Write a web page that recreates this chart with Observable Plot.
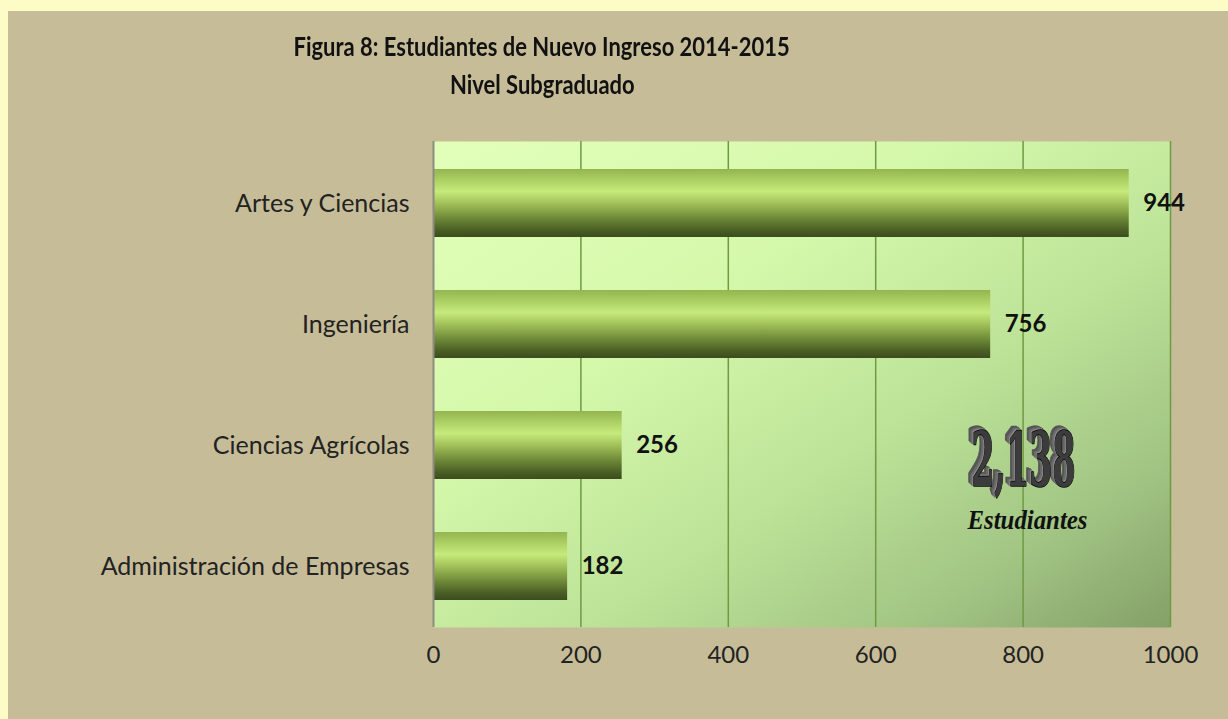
<!DOCTYPE html>
<html><head><meta charset="utf-8">
<script src="https://cdn.jsdelivr.net/npm/d3@7"></script>
<script src="https://cdn.jsdelivr.net/npm/@observablehq/plot@0.6"></script>
<style>
html,body{margin:0;padding:0;background:#fdfbc6;width:1228px;height:719px;overflow:hidden}
#panel{position:absolute;left:8px;top:11px;width:1220px;height:708px;background:#c6bd98;}
#title{width:1068px;height:100px;box-sizing:border-box;padding-top:16px;text-align:center;font-family:Lato,sans-serif;font-weight:bold;font-size:26px;line-height:38px;color:#111;}
#title span{display:inline-block;transform:scaleX(0.845);transform-origin:center;}
#chart{position:absolute;left:0;top:100px;}
</style></head><body>
<div id="panel">
  <div id="title"><span>Figura 8: Estudiantes de Nuevo Ingreso 2014-2015</span><br><span>Nivel Subgraduado</span></div>
  <div id="chart"></div>
</div>
<script>
const categories = ["Artes y Ciencias", "Ingeniería", "Ciencias Agrícolas", "Administración de Empresas"];
const students = [944, 756, 256, 182];
const xTicks = [0, 200, 400, 600, 800, 1000];
const totalCaption = "Estudiantes";

const data = categories.map((c, i) => ({category: c, value: students[i]}));
const total = d3.sum(students);
const totalText = d3.format(",")(total);

const svg = Plot.plot({
  width: 1220,
  height: 608,
  marginLeft: 425,
  marginRight: 58,
  marginTop: 30,
  marginBottom: 92,
  style: {fontFamily: "Lato, sans-serif", fontSize: "24px", color: "#222", background: "transparent", overflow: "visible"},
  x: {domain: [0, 1000]},
  y: {domain: categories, paddingInner: 0.44, paddingOuter: 0.22},
  marks: [
    Plot.frame({fill: "url(#bgGrad)", stroke: "none"}),
    Plot.gridX(xTicks.slice(1), {stroke: "#6f9a42", strokeOpacity: 1, strokeWidth: 1.5}),
    Plot.barX(data, {x: "value", y: "category", fill: "url(#barGrad)"}),
    Plot.ruleX([0], {stroke: "#8d8c80", strokeWidth: 2}),
    Plot.text(data, {x: "value", y: "category", text: d => String(d.value), textAnchor: "start", dx: 14,
      fontWeight: "bold", fontSize: 24, fill: "#111"}),
    Plot.text([totalText], {
      text: d => d, frameAnchor: "right", textAnchor: "middle", dx: -147, dy: 78,
      fontFamily: "DejaVu Serif Condensed", fontWeight: "bold", fontSize: 74,
      fill: "#3c3c3c", stroke: "#000", strokeWidth: 1.5
    }),
    Plot.text([totalCaption], {
      text: d => d, frameAnchor: "right", textAnchor: "middle", dx: -143, dy: 136,
      fontFamily: "Liberation Serif", fontStyle: "italic", fontWeight: "bold", fontSize: 28, fill: "#111"
    }),
    Plot.axisX(xTicks, {tickSize: 0, tickPadding: 18, fontSize: 24, fill: "#222", label: null, tickFormat: d => String(d)}),
    Plot.axisY({tickSize: 0, tickPadding: 24, fontSize: 25, fill: "#222", label: null})
  ]
});

const defs = d3.select(svg).insert("defs", ":first-child");
const bg = defs.append("linearGradient").attr("id", "bgGrad")
  .attr("x1", 0).attr("y1", 0).attr("x2", 1).attr("y2", 1);
[[0, "#e2ffba"], [0.35, "#d4f8aa"], [0.6, "#bde398"], [0.82, "#a2c584"], [1, "#84a168"]]
  .forEach(([o, c]) => bg.append("stop").attr("offset", o).attr("stop-color", c));
const bar = defs.append("linearGradient").attr("id", "barGrad")
  .attr("x1", 0).attr("y1", 0).attr("x2", 0).attr("y2", 1);
[[0, "#94b450"], [0.15, "#aace62"], [0.33, "#c6ea7c"], [0.5, "#a2c25a"], [0.72, "#6f8a38"], [0.9, "#495e24"], [1, "#3c4c1e"]]
  .forEach(([o, c]) => bar.append("stop").attr("offset", o).attr("stop-color", c));

d3.select(svg).selectAll("text").filter(function () { return this.textContent === totalText; })
  .attr("textLength", 104).attr("lengthAdjust", "spacingAndGlyphs")
  .style("filter", "drop-shadow(-1px -1px 0 #8a8a8a) drop-shadow(-2px -1px 0 #6a6a6a) drop-shadow(-2px -2px 0 #555)");
d3.select(svg).selectAll("text").filter(function () { return this.textContent === totalCaption; })
  .attr("textLength", 120).attr("lengthAdjust", "spacingAndGlyphs");

document.getElementById("chart").appendChild(svg);
</script>
</body></html>
